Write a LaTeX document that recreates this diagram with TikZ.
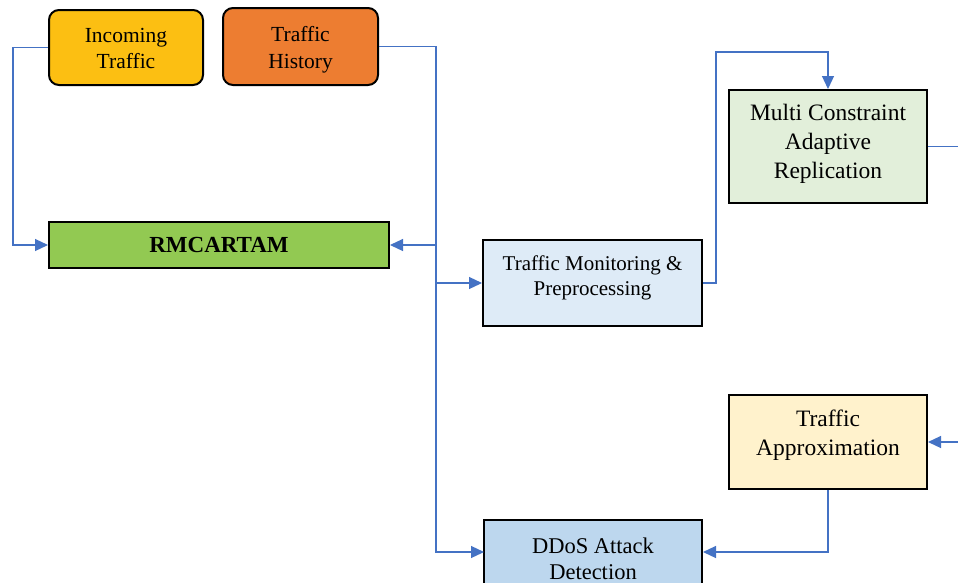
\documentclass[tikz,border=0pt]{standalone}
\usepackage{fontspec}
\setmainfont{Liberation Serif}
\usetikzlibrary{arrows.meta,calc}

\definecolor{flowblue}{HTML}{4472C4}
\definecolor{incfill}{HTML}{FCBF12}
\definecolor{histfill}{HTML}{ED7D31}
\definecolor{rmcfill}{HTML}{92C952}
\definecolor{tmpfill}{HTML}{DEEBF7}
\definecolor{mcarfill}{HTML}{E2EFDA}
\definecolor{tafill}{HTML}{FFF2CC}
\definecolor{ddosfill}{HTML}{BDD7EE}

\newcommand{\fsz}[2]{\fontsize{#1}{#2}\selectfont}

\tikzset{
  x=1pt, y=1pt,
  blockbox/.style={draw=black, line width=2pt, inner sep=0pt},
  inbox/.style={blockbox, rounded corners=10pt},
  caption/.style={align=center, inner sep=0pt},
  flow/.style={draw=flowblue, line width=1.2pt,
    -{Triangle[length=13pt,width=12pt]}},
  plainflow/.style={draw=flowblue, line width=1.2pt},
}

\begin{document}
\begin{tikzpicture}
  \clip (0,0) rectangle (958,-582);
  \fill[white] (0,0) rectangle (958,-582);

  % input blocks
  \node[inbox, fill=incfill, minimum width=154, minimum height=75] (inc) at (126,-47.5) {};
  \node[caption, font=\fsz{21.5pt}{26pt}] (incT) at ([yshift=-0.5pt]inc.center) {Incoming\\Traffic};
  \node[inbox, fill=histfill, minimum width=155, minimum height=77] (hist) at (300.5,-46.5) {};
  \node[caption, font=\fsz{21.5pt}{26.5pt}] (histT) at ([yshift=-3pt]hist.center) {Traffic\\History};

  % framework block
  \node[blockbox, fill=rmcfill, minimum width=340, minimum height=46,
        font=\fsz{23pt}{27pt}\bfseries] (rmc) at (219,-245) {RMCARTAM};

  % processing stages
  \node[blockbox, fill=tmpfill, minimum width=219, minimum height=86] (tmp) at (592.5,-283) {};
  \node[caption, font=\fsz{21pt}{25.5pt}] (tmpT) at ([yshift=5pt]tmp.center) {Traffic Monitoring \&\\Preprocessing};
  \node[blockbox, fill=mcarfill, minimum width=198, minimum height=113] (mcar) at (828,-146.5) {};
  \node[caption, font=\fsz{23.5pt}{29pt}] (mcarT) at ([yshift=3pt]mcar.center) {Multi Constraint\\Adaptive\\Replication};
  \node[blockbox, fill=tafill, minimum width=198, minimum height=94] (ta) at (828,-442) {};
  \node[caption, font=\fsz{23.5pt}{29pt}] (taT) at ([yshift=7pt]ta.center) {Traffic\\Approximation};
  \node[blockbox, fill=ddosfill, minimum width=218, minimum height=86] (ddos) at (593,-563) {};
  \node[caption, font=\fsz{22.5pt}{25.5pt}] (ddosT) at ([yshift=4pt]ddos.center) {DDoS Attack\\Detection};

  % routing points
  \coordinate (lx) at (13,0);
  \coordinate (bx) at (436,0);
  \coordinate (dIn) at (484,-552);
  \coordinate (rx) at (716,-52);
  \coordinate (mOut) at (958,-146.5);
  \coordinate (taIn) at (958,-442);

  % connectors
  \draw[flow] (inc.west) -| (lx |- rmc.west) -- (rmc.west);
  \draw[flow] (hist.east) -| (bx |- dIn) -- (dIn);
  \draw[flow] (bx |- rmc.east) -- (rmc.east);
  \draw[flow] (bx |- tmp.west) -- (tmp.west);
  \draw[flow] (tmp.east) -| (rx) -| (mcar.north);
  \draw[plainflow] (mcar.east) -- (mOut);
  \draw[flow] (taIn) -- (ta.east);
  \draw[flow] (ta.south) |- (ddos.east |- dIn);
\end{tikzpicture}
\end{document}
